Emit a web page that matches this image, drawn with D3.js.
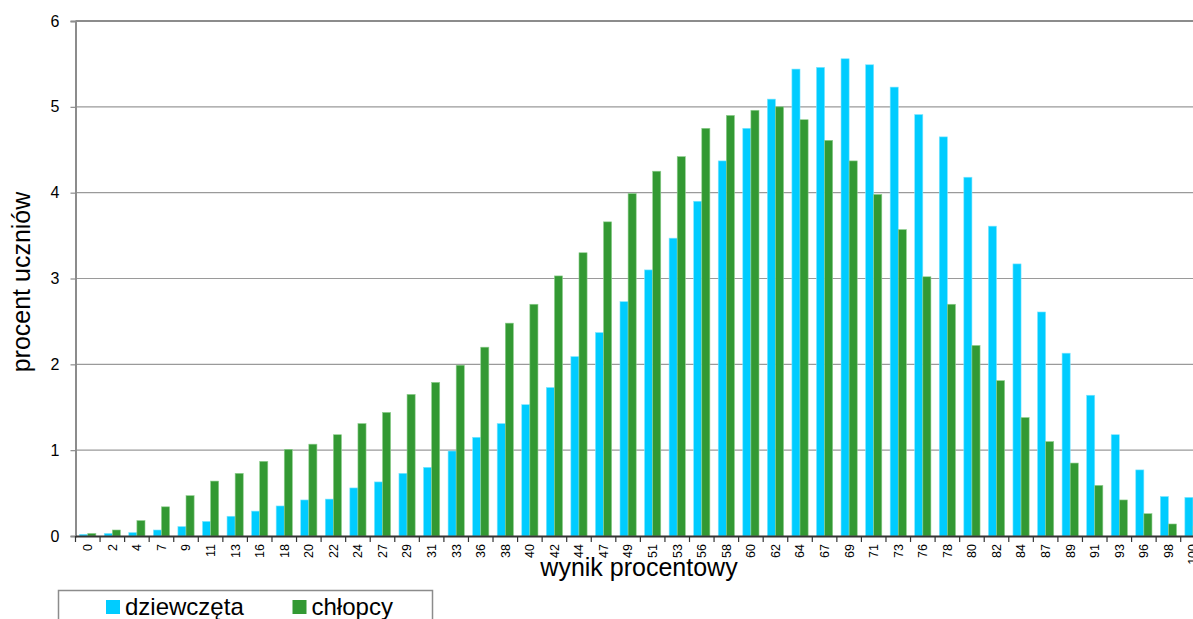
<!DOCTYPE html>
<html>
<head>
<meta charset="utf-8">
<script src="https://cdn.jsdelivr.net/npm/d3@7"></script>
<style>
  html, body { margin: 0; padding: 0; background: #fff; }
  svg { display: block; font-family: "Liberation Sans", Arial, sans-serif; }
</style>
</head>
<body>
<svg id="chart" width="1193" height="619"></svg>
<script>
const categories = ["0","2","4","7","9","11","13","16","18","20","22","24","27","29","31","33","36","38","40","42","44","47","49","51","53","56","58","60","62","64","67","69","71","73","76","78","80","82","84","87","89","91","93","96","98","100"];
const dziewczeta = [0.02,0.03,0.04,0.07,0.11,0.17,0.23,0.29,0.35,0.42,0.43,0.56,0.63,0.73,0.80,0.99,1.15,1.31,1.53,1.73,2.09,2.37,2.73,3.10,3.47,3.90,4.37,4.75,5.09,5.44,5.46,5.56,5.49,5.23,4.91,4.65,4.18,3.61,3.17,2.61,2.13,1.64,1.18,0.77,0.46,0.45];
const chlopcy = [0.03,0.07,0.18,0.34,0.47,0.64,0.73,0.87,1.01,1.07,1.18,1.31,1.44,1.65,1.79,1.99,2.20,2.48,2.70,3.03,3.30,3.66,3.99,4.25,4.42,4.75,4.90,4.96,5.00,4.85,4.61,4.37,3.98,3.57,3.02,2.70,2.22,1.81,1.38,1.10,0.85,0.59,0.42,0.26,0.14,0.11];
const seriesNames = ["dziewczęta","chłopcy"];
const seriesColors = ["#00CCFF","#339933"];
const seriesEdges = ["#7fe6ff","#8fcf8f"];
const yTicks = [0,1,2,3,4,5,6];

const svg = d3.select("#chart");
const plotLeft = 75.5, plotTop = 21, plotBottom = 536;
const step = 24.56;
const plotRight = plotLeft + categories.length * step;

const x = d3.scaleBand().domain(categories).range([plotLeft, plotRight]).paddingInner(0.34).paddingOuter(0.17);
const xs = d3.scaleBand().domain(seriesNames).range([0, x.bandwidth()]).padding(0);
const y = d3.scaleLinear().domain([0, 6]).range([plotBottom, plotTop]);

// gridlines
svg.append("g").selectAll("line").data(yTicks.filter(t => t > 0 && t < 6)).join("line")
  .attr("x1", plotLeft).attr("x2", 1193)
  .attr("y1", d => y(d)).attr("y2", d => y(d))
  .attr("stroke", "#9a9a9a").attr("stroke-width", 1.2);
// top line
svg.append("line").attr("x1", plotLeft).attr("x2", 1193).attr("y1", y(6)).attr("y2", y(6))
  .attr("stroke", "#8c8c8c").attr("stroke-width", 2);

// bars
const data = categories.map((c, i) => ({ c, vals: [dziewczeta[i], chlopcy[i]] }));
const groups = svg.append("g").selectAll("g").data(data).join("g")
  .attr("transform", d => `translate(${x(d.c)},0)`);
groups.selectAll("rect").data(d => d.vals.map((v, k) => ({ v, k }))).join("rect")
  .attr("x", d => xs(seriesNames[d.k]))
  .attr("width", xs.bandwidth())
  .attr("y", d => y(d.v))
  .attr("height", d => plotBottom - y(d.v))
  .attr("fill", d => seriesColors[d.k])
  .attr("stroke", d => seriesEdges[d.k])
  .attr("stroke-width", 0.6);

// y axis
const yAxis = svg.append("g").attr("transform", `translate(${plotLeft},0)`)
  .call(d3.axisLeft(y).tickValues(yTicks).tickSize(5).tickPadding(11).tickFormat(d3.format("d")));
yAxis.select(".domain").attr("stroke", "#8c8c8c").attr("stroke-width", 2);
yAxis.selectAll(".tick line").attr("stroke", "#8c8c8c").attr("stroke-width", 1.2);
yAxis.selectAll(".tick text").attr("font-size", 16).attr("fill", "#000")
  .attr("font-family", "'Liberation Sans', Arial, sans-serif");

// x axis
const xAxis = svg.append("g").attr("transform", `translate(0,${plotBottom})`)
  .call(d3.axisBottom(x).tickSize(0).tickSizeOuter(0));
xAxis.select(".domain").attr("stroke", "#333").attr("stroke-width", 2);
xAxis.selectAll(".tick text")
  .attr("font-size", 12.5).attr("fill", "#000")
  .attr("font-family", "'Liberation Sans', Arial, sans-serif")
  .attr("text-anchor", "end")
  .attr("dy", "0.35em")
  .attr("transform", "translate(0,8) rotate(-90)")
  .attr("x", 0).attr("y", 0);
// boundary ticks
svg.append("g").selectAll("line").data(d3.range(categories.length + 1)).join("line")
  .attr("x1", i => plotLeft + i * step).attr("x2", i => plotLeft + i * step)
  .attr("y1", plotBottom).attr("y2", plotBottom + 6)
  .attr("stroke", "#333").attr("stroke-width", 1.2);

// axis titles
svg.append("text").attr("transform", `translate(30,282) rotate(-90)`)
  .attr("text-anchor", "middle").attr("font-size", 25).attr("fill", "#000")
  .text("procent uczniów");
svg.append("text").attr("x", 639).attr("y", 576)
  .attr("text-anchor", "middle").attr("font-size", 25).attr("fill", "#000")
  .text("wynik procentowy");

// legend
const lg = svg.append("g");
lg.append("rect").attr("x", 58.5).attr("y", 590.5).attr("width", 374).attr("height", 50)
  .attr("fill", "none").attr("stroke", "#8c8c8c").attr("stroke-width", 1.5);
const legendX = [106, 292.5];
seriesNames.forEach((n, k) => {
  lg.append("rect").attr("x", legendX[k]).attr("y", 600).attr("width", 14).attr("height", 14)
    .attr("fill", seriesColors[k]);
  lg.append("text").attr("x", legendX[k] + 19).attr("y", 615)
    .attr("font-size", 24).attr("fill", "#000").text(n);
});
</script>
</body>
</html>
